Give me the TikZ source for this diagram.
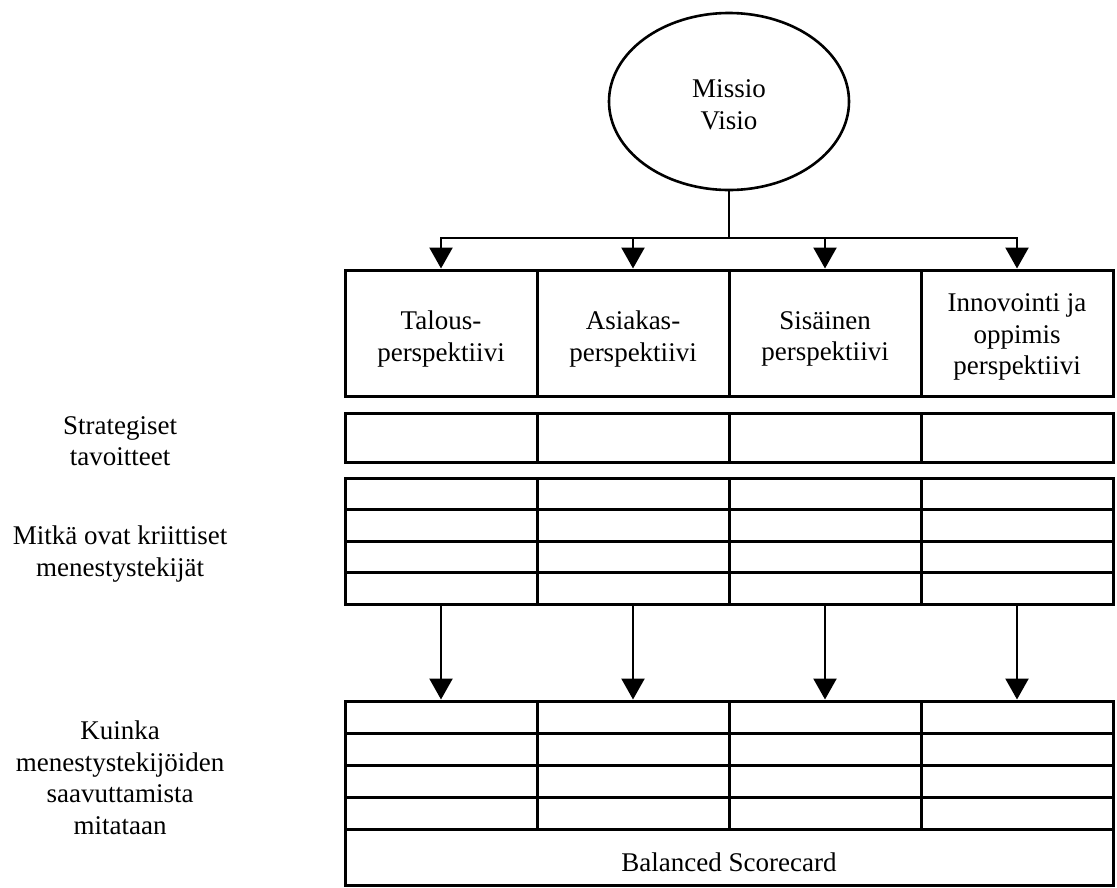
\documentclass[tikz,border=0pt]{standalone}
\usepackage{fontspec}
\setmainfont{Liberation Serif}
\usetikzlibrary{arrows.meta,shapes.geometric}
\begin{document}
\begin{tikzpicture}[x=1pt,y=-1pt,
  every node/.style={font=\fontsize{27}{31.5}\selectfont},
  cell/.style={draw, line width=3pt, minimum width=192pt, inner sep=0pt},
  celltext/.style={align=center, inner sep=0pt},
  link/.style={line width=2.4pt},
  arr/.style={link, -{Triangle[length=21pt,width=23pt]}},
  side/.style={align=center}]
\useasboundingbox (0,0) rectangle (1117,887);

% mission / vision
\node[draw, ellipse, line width=2.6pt, minimum width=240pt, minimum height=177pt,
      inner sep=0pt] (mv) at (729,101.5) {};
\node[celltext] (mvt) at (729,105) {Missio\\Visio};

% the four perspectives
\foreach \i/\x in {1/441,2/633,3/825,4/1017}
  \node[cell, minimum height=126pt] (p\i) at (\x,333) {};
\node[celltext] (pt1) at (441,339) {Talous-\\perspektiivi};
\node[celltext] (pt2) at (633,339) {Asiakas-\\perspektiivi};
\node[celltext] (pt3) at (825,339) {Sisäinen\\perspektiivi};
\node[celltext] (pt4) at (1017,337) {Innovointi ja\\oppimis\\perspektiivi};

% strategic objectives row
\foreach \i/\x in {1/441,2/633,3/825,4/1017}
  \node[cell, minimum height=49pt] (s\i) at (\x,437.5) {};

% critical success factors grid
\foreach \r in {1,...,4}
  \foreach \i/\x in {1/441,2/633,3/825,4/1017}
    \node[cell, minimum height=31.5pt] (c\r\i) at (\x,{478+31.5*(\r-0.5)}) {};

% measures grid
\foreach \r in {1,...,4}
  \foreach \i/\x in {1/441,2/633,3/825,4/1017}
    \node[cell, minimum height=32pt] (k\r\i) at (\x,{701+32*(\r-0.5)}) {};

% scorecard footer
\node[cell, minimum width=768pt, minimum height=56pt] (bsc) at (729,857) {};
\node[celltext] (bsct) at (729,862) {Balanced Scorecard};

% connectors from the ellipse to the perspectives
\coordinate (bus) at (729,238);
\draw[link] (mv.south) -- (bus);
\draw[link, line cap=rect] (p1.north |- bus) -- (p4.north |- bus);
\foreach \i in {1,...,4}
  \draw[arr] (p\i.north |- bus) -- (p\i.north);

% connectors from success factors to measures
\foreach \i in {1,...,4}
  \draw[arr] (c4\i.south) -- (k1\i.north);

% row captions
\node[side] (lab1) at (120,441) {Strategiset\\tavoitteet};
\node[side] (lab2) at (120,554) {Mitkä ovat kriittiset\\menestystekijät};
\node[side] (lab3) at (120,778) {Kuinka\\menestystekijöiden\\saavuttamista\\mitataan};
\end{tikzpicture}
\end{document}
